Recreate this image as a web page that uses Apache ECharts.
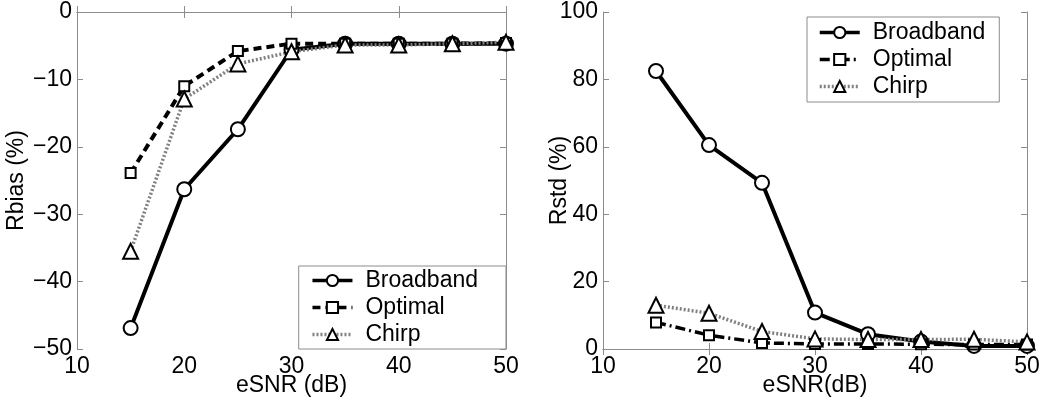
<!DOCTYPE html>
<html>
<head>
<meta charset="utf-8">
<script src="https://cdn.jsdelivr.net/npm/echarts@6/dist/echarts.min.js"></script>
<style>
  html, body { margin: 0; padding: 0; background: #fff; }
  #chart { width: 1050px; height: 408px; }
</style>
</head>
<body>
<div id="chart"></div>
<script>
// eSNR (dB)
var esnr = [15, 20, 25, 30, 35, 40, 45, 50];

// Rbias (%)
var biasBroadband = [-46.9, -26.3, -17.4, -5.6, -4.7, -4.7, -4.7, -4.7];
var biasOptimal   = [-23.9, -11.0, -5.8, -4.7, -4.7, -4.7, -4.7, -4.6];
var biasChirp     = [-35.5, -12.9, -7.7, -5.9, -4.9, -4.9, -4.7, -4.5];

// Rstd (%)
var stdBroadband = [82.5, 60.5, 49.3, 10.8, 4.4, 2.2, 0.9, 0.9];
var stdOptimal   = [7.9, 4.1, 1.8, 1.5, 1.5, 1.4, 1.3, 1.3];
var stdChirp     = [13.0, 10.6, 5.2, 3.0, 2.8, 2.8, 2.9, 2.1];

function pairs(xs, ys){
    var out = [];
    for (var i = 0; i < xs.length; i++) out.push([xs[i], ys[i]]);
    return out;
}

var font = 'Liberation Sans, Arial, sans-serif';
var fs = 23;
var frame = '#8c8c8c';

function mainX(grid, name){
    return {
        type: 'value', gridIndex: grid, min: 10, max: 50, interval: 10,
        name: name, nameLocation: 'middle', nameGap: 25, nameMoveOverlap: false,
        nameTextStyle: { color: '#000', fontSize: fs, fontFamily: font },
        axisLine: { show: true, lineStyle: { color: frame } },
        axisTick: { inside: true, length: 6, lineStyle: { color: frame } },
        axisLabel: { color: '#000', fontSize: fs, fontFamily: font, margin: 6 },
        splitLine: { show: false }
    };
}
function sideAxis(grid, pos, min, max, interval){
    return {
        type: 'value', gridIndex: grid, position: pos, min: min, max: max, interval: interval,
        axisLine: { show: true, lineStyle: { color: frame } },
        axisTick: { inside: true, length: 6, lineStyle: { color: frame } },
        axisLabel: { show: false },
        splitLine: { show: false }
    };
}
function mainY(grid, name, min, max, interval, gap){
    return {
        type: 'value', gridIndex: grid, min: min, max: max, interval: interval,
        name: name, nameLocation: 'middle', nameGap: gap, nameRotate: 90, nameMoveOverlap: false,
        nameTextStyle: { color: '#000', fontSize: fs, fontFamily: font },
        axisLine: { show: true, lineStyle: { color: frame } },
        axisTick: { inside: true, length: 6, lineStyle: { color: frame } },
        axisLabel: { color: '#000', fontSize: fs, fontFamily: font, margin: 5,
            formatter: function(v){ return String(v).replace('-', '\u2212'); } },
        splitLine: { show: false }
    };
}

function line(name, data, xi, yi, symbol, size, lineStyle){
    return {
        name: name, type: 'line', xAxisIndex: xi, yAxisIndex: yi,
        data: data, symbol: symbol, symbolSize: size, showSymbol: true,
        lineStyle: lineStyle,
        itemStyle: { color: '#000', borderColor: '#000', borderWidth: 3.5 },
        emphasis: { disabled: true },
        z: 3
    };
}

var solid = { color: '#000', width: 4, type: 'solid' };
var dashed = { color: '#000', width: 4, type: [8, 5] };
var dashDot = { color: '#000', width: 3.5, type: [10, 4, 2, 4] };
var dotted = { color: '#808080', width: 3.5, type: [2, 2] };

function legendBox(pos, padding, items){
    var l = {
        orient: 'vertical',
        itemWidth: 40, itemHeight: 14, itemGap: 4,
        padding: padding,
        backgroundColor: '#fff', borderColor: frame, borderWidth: 1, borderRadius: 0,
        itemStyle: { borderWidth: 3 },
        lineStyle: { width: 3.5 },
        textStyle: { color: '#000', fontSize: fs, fontFamily: font, padding: [0, 0, 0, 8] },
        data: items
    };
    for (var k in pos) l[k] = pos[k];
    return l;
}

var chart = echarts.init(document.getElementById('chart'));
var option = {
    animation: false,
    backgroundColor: '#fff',
    grid: [
        { left: 77, right: 544, top: 12, bottom: 59, show: false },
        { left: 603, right: 23, top: 12, bottom: 59, show: false }
    ],
    xAxis: [
        mainX(0, 'eSNR (dB)'),
        sideAxis(0, 'top', 10, 50, 10),
        mainX(1, 'eSNR(dB)'),
        sideAxis(1, 'top', 10, 50, 10)
    ],
    yAxis: [
        mainY(0, 'Rbias (%)', -50, 0, 10, 49),
        sideAxis(0, 'right', -50, 0, 10),
        mainY(1, 'Rstd (%)', 0, 100, 20, 32),
        sideAxis(1, 'right', 0, 100, 20)
    ],
    legend: [
        legendBox({ right: 544, bottom: 59 }, [3, 28, 3, 12],
            ['Broadband', 'Optimal', 'Chirp']),
        legendBox({ left: 807, top: 17 }, [4, 14, 4, 11], [
            { name: 'Broadband' },
            { name: 'Optimal', lineStyle: { type: [10, 4, 2, 4] } },
            { name: 'Chirp' }
        ])
    ],
    series: [
        line('Broadband', pairs(esnr, biasBroadband), 0, 0, 'emptyCircle', 14, solid),
        line('Optimal', pairs(esnr, biasOptimal), 0, 0, 'emptyRect', 10, dashed),
        line('Chirp', pairs(esnr, biasChirp), 0, 0, 'emptyTriangle', 15, dotted),
        line('Broadband', pairs(esnr, stdBroadband), 2, 2, 'emptyCircle', 14, solid),
        line('Optimal', pairs(esnr, stdOptimal), 2, 2, 'emptyRect', 10, dashDot),
        line('Chirp', pairs(esnr, stdChirp), 2, 2, 'emptyTriangle', 15, dotted)
    ]
};
chart.setOption(option);
</script>
</body>
</html>
